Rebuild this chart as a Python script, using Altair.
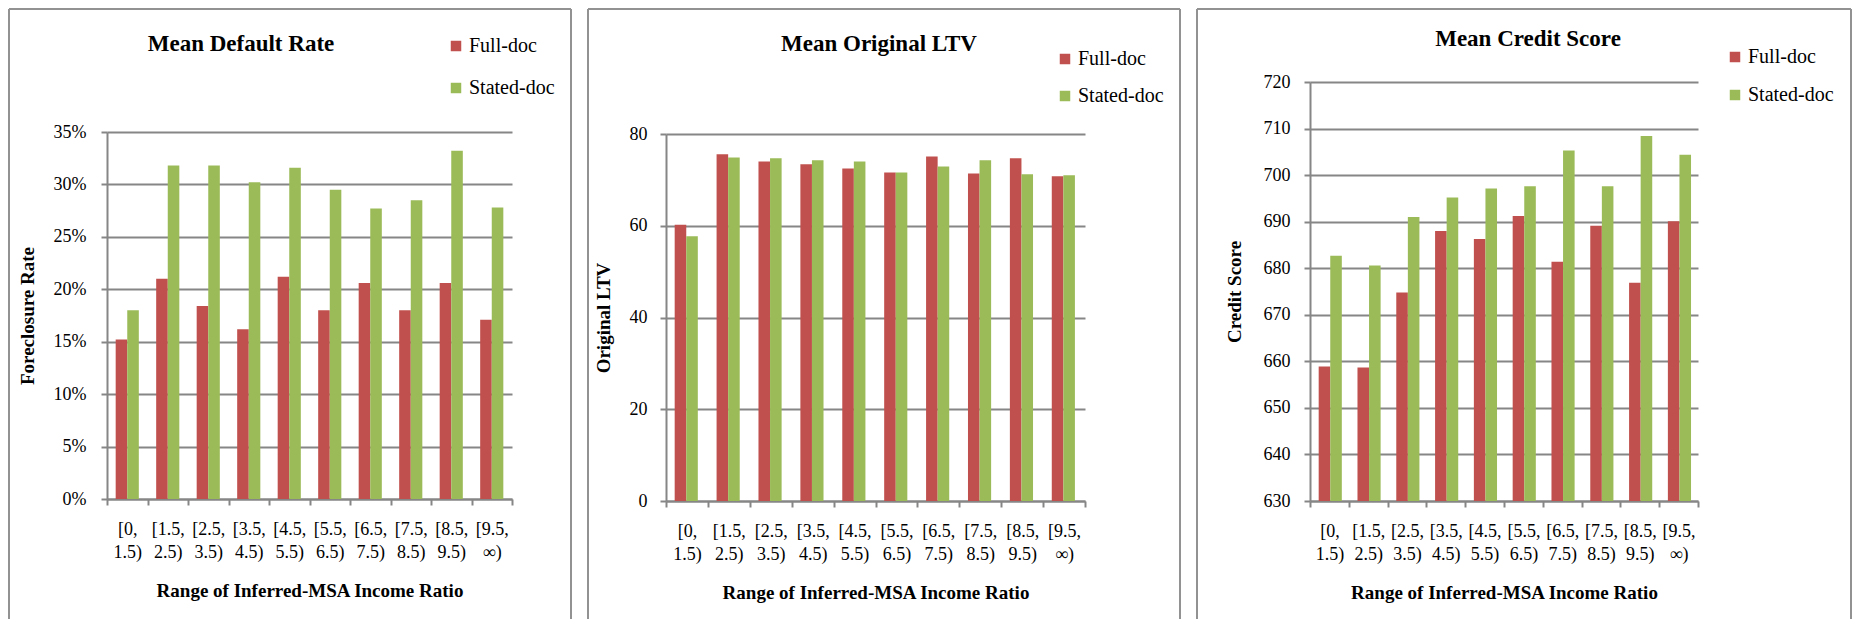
import altair as alt
import pandas as pd

categories = ["[0, 1.5)", "[1.5, 2.5)", "[2.5, 3.5)", "[3.5, 4.5)", "[4.5, 5.5)",
              "[5.5, 6.5)", "[6.5, 7.5)", "[7.5, 8.5)", "[8.5, 9.5)", "[9.5, ∞)"]
series = ["Full-doc", "Stated-doc"]

default_full = [0.152, 0.210, 0.184, 0.162, 0.212, 0.180, 0.206, 0.180, 0.206, 0.171]
default_stated = [0.180, 0.318, 0.318, 0.302, 0.316, 0.295, 0.277, 0.285, 0.332, 0.278]

ltv_full = [60.2, 75.6, 74.0, 73.4, 72.5, 71.6, 75.1, 71.4, 74.7, 70.8]
ltv_stated = [57.7, 74.9, 74.7, 74.3, 74.0, 71.6, 72.9, 74.3, 71.2, 71.0]

credit_full = [658.9, 658.7, 674.8, 688.0, 686.3, 691.2, 681.4, 689.1, 676.9, 690.1]
credit_stated = [682.7, 680.6, 691.0, 695.2, 697.1, 697.6, 705.3, 697.6, 708.4, 704.4]

default_ticks = [0, 0.05, 0.10, 0.15, 0.20, 0.25, 0.30, 0.35]
ltv_ticks = [0, 20, 40, 60, 80]
credit_ticks = [630, 640, 650, 660, 670, 680, 690, 700, 710, 720]

FONT = "Liberation Serif"
GRAY = "#868686"
COLORS = ["#C0504D", "#9BBB59"]
XTITLE = "Range of Inferred-MSA Income Ratio"


def frame(full, stated):
    rows = []
    for c, a, b in zip(categories, full, stated):
        rows.append({"range": c, "series": series[0], "value": a})
        rows.append({"range": c, "series": series[1], "value": b})
    return pd.DataFrame(rows)


def border_rule(**enc):
    return alt.Chart(pd.DataFrame({"k": [0]})).mark_rule(
        color="#929292", strokeWidth=2
    ).encode(**enc)


def panel(full, stated, w, h, yrange, ydomain, yticks, yfmt, ytitle, ytitle_x, title,
          title_xy, legend_xy, row_pad, border, label_pad):
    df = frame(full, stated)
    bars = alt.Chart(df).mark_bar().encode(
        x=alt.X("range:N", sort=categories,
                scale=alt.Scale(paddingInner=0, paddingOuter=0),
                axis=alt.Axis(title=XTITLE, labelExpr="split(datum.label, ' ')",
                              labelAngle=0, labelOverlap=False, labelBound=False,
                              labelFlush=False,
                              labelLineHeight=23, labelPadding=15, tickBand="extent",
                              tickSize=6, titleY=91, titleBaseline="middle",
                              titleFontSize=19)),
        xOffset=alt.XOffset("series:N", sort=series,
                            scale=alt.Scale(paddingInner=0, paddingOuter=0.75)),
        y=alt.Y("value:Q", stack=None,
                scale=alt.Scale(domain=ydomain, range=yrange, nice=False, zero=False),
                axis=alt.Axis(title=ytitle, values=yticks, format=yfmt, grid=True,
                              tickSize=6, labelPadding=label_pad,
                              titleX=ytitle_x, titleY=(yrange[0] + yrange[1]) / 2,
                              titleAngle=-90,
                              titleBaseline="middle", titleAlign="center",
                              titleFontSize=19)),
        y2=alt.datum(ydomain[0]),
        color=alt.Color("series:N", sort=series,
                        scale=alt.Scale(domain=series, range=COLORS),
                        legend=alt.Legend(title=None, orient="none",
                                          legendX=legend_xy[0], legendY=legend_xy[1],
                                          symbolType="square", symbolSize=110,
                                          symbolStrokeWidth=0, labelFont=FONT,
                                          labelFontSize=20, labelOffset=3,
                                          rowPadding=row_pad, padding=0,
                                          labelColor="#000000")),
    )
    bx0, bx1, by0, by1 = border
    left = border_rule(x=alt.value(bx0), y=alt.value(by0), y2=alt.value(by1))
    right = border_rule(x=alt.value(bx1), y=alt.value(by0), y2=alt.value(by1))
    top = border_rule(x=alt.value(bx0), x2=alt.value(bx1), y=alt.value(by0))
    ttl = alt.Chart(pd.DataFrame({"t": [title]})).mark_text(
        font=FONT, fontSize=23, fontWeight="bold", align="center",
        baseline="middle", color="#000000"
    ).encode(x=alt.value(title_xy[0]), y=alt.value(title_xy[1]), text="t:N")
    return alt.layer(left, right, top, bars, ttl).properties(width=w, height=h)


# all plot areas share a common top edge; each y scale range sets its own plot span
p1 = panel(default_full, default_stated, 405, 417, [417, 50], [0, 0.35], default_ticks,
           ".0%", "Foreclosure Rate", -80, "Mean Default Rate", (134, -38),
           (339, -46), 22, (-98, 464, -73, 537), 15)
p2 = panel(ltv_full, ltv_stated, 419, 419, [419, 52], [0, 80], ltv_ticks, "d",
           "Original LTV", -63, "Mean Original LTV", (213, -38),
           (389, -33), 17, (-78, 514, -73, 537), 13)
p3 = panel(credit_full, credit_stated, 388, 419, [419, 0], [630, 720], credit_ticks, "d",
           "Credit Score", -76, "Mean Credit Score", (218, -43),
           (415, -35), 18, (-113, 541, -73, 537), 14)

chart = alt.hconcat(p1, p2, p3, spacing=15).resolve_scale(
    x="independent", y="independent"
).resolve_legend(color="independent").properties(
    padding=0, background="white"
).configure_view(stroke=None).configure_axis(
    labelFont=FONT, labelFontSize=18, labelColor="#000000",
    titleFont=FONT, titleFontWeight="bold", titleColor="#000000",
    domainColor=GRAY, domainWidth=2, tickColor=GRAY, tickWidth=2,
    gridColor=GRAY, gridWidth=2, gridOpacity=1
).configure_axisX(grid=False)

chart.save("out.html", embed_options={"renderer": "svg", "actions": False})
